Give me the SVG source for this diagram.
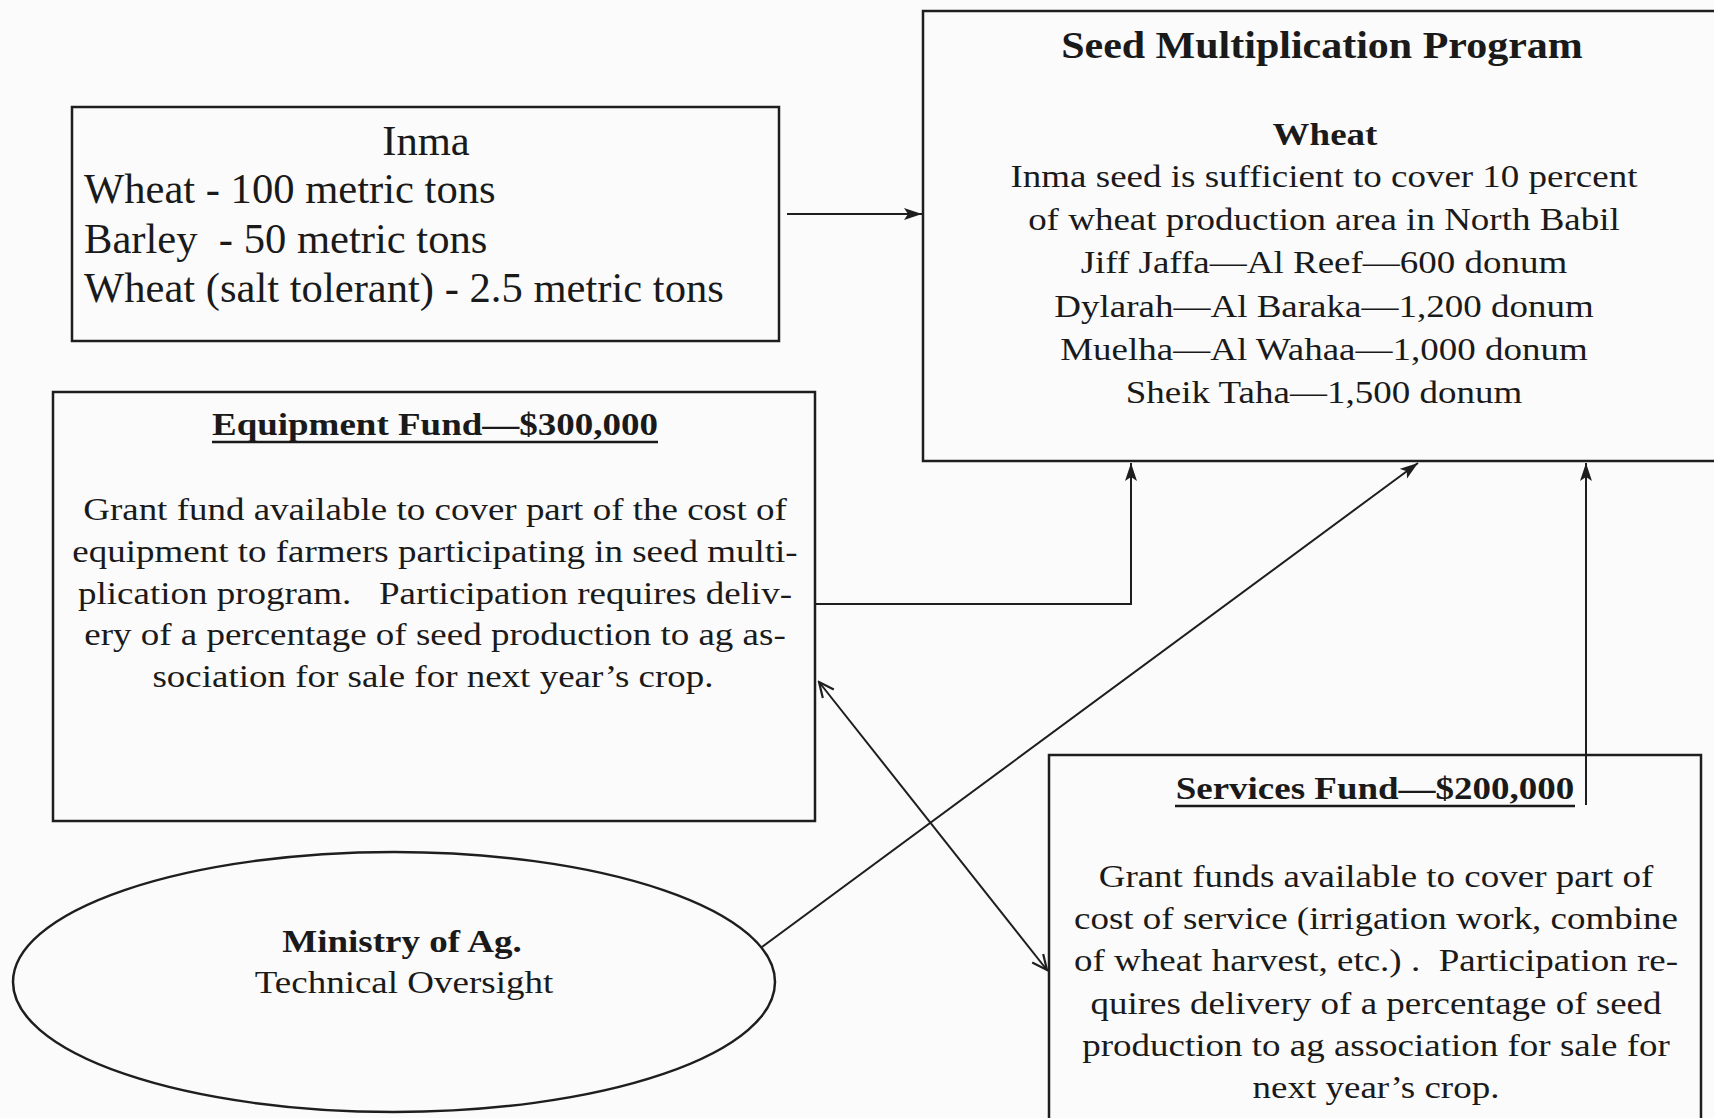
<svg xmlns="http://www.w3.org/2000/svg" width="1714" height="1118" viewBox="0 0 1714 1118">
<style>
.box{fill:none;stroke:#1e1e1e;stroke-width:2.5}
.t{font-family:"Liberation Serif","Times New Roman",serif;fill:#1a1a1a}
.b{font-weight:bold}
.c{text-anchor:middle}
.conn{fill:none;stroke:#1e1e1e;stroke-width:2}
.ul{stroke:#1a1a1a;stroke-width:2.5}
</style>
<defs>
<marker id="af" markerUnits="userSpaceOnUse" markerWidth="20" markerHeight="14" refX="18" refY="7" orient="auto">
<path d="M0,1 L18,7 L0,13 L4,7 z" fill="#1e1e1e"/>
</marker>
<marker id="ao" markerUnits="userSpaceOnUse" markerWidth="20" markerHeight="18" refX="18" refY="9" orient="auto-start-reverse">
<path d="M3,2 L18,9 L3,16" fill="none" stroke="#1e1e1e" stroke-width="2.2"/>
</marker>
</defs>
<rect width="1714" height="1118" fill="#fbfbfb"/>

<g id="inma">
<rect class="box" x="72" y="107" width="707" height="234"/>
<g class="t" font-size="42.6">
<text class="c" x="426" y="155">Inma</text>
<text x="84" y="203">Wheat - 100 metric tons</text>
<text x="84" y="253" style="white-space:pre">Barley  - 50 metric tons</text>
<text x="84" y="302">Wheat (salt tolerant) - 2.5 metric tons</text>
</g>
</g>

<g id="seed-program">
<rect class="box" x="923" y="11" width="820" height="450"/>
<text class="t b c" font-size="42" x="1322" y="0" transform="translate(0,58) scale(1,0.88)">Seed Multiplication Program</text>
<text class="t b c" font-size="37" x="1325" y="0" transform="translate(0,145) scale(1,0.88)">Wheat</text>
<g class="t c" font-size="37" transform="translate(0,187) scale(1,0.88)">
<text x="1324" y="0">Inma seed is sufficient to cover 10 percent</text>
<text x="1324" y="49.1">of wheat production area in North Babil</text>
<text x="1324" y="98.2">Jiff Jaffa—Al Reef—600 donum</text>
<text x="1324" y="147.3">Dylarah—Al Baraka—1,200 donum</text>
<text x="1324" y="196.4">Muelha—Al Wahaa—1,000 donum</text>
<text x="1324" y="245.5">Sheik Taha—1,500 donum</text>
</g>
</g>

<g id="equipment-fund">
<rect class="box" x="53" y="392" width="762" height="429"/>
<text class="t b c" font-size="37" x="435" y="0" transform="translate(0,435) scale(1,0.88)">Equipment Fund—$300,000</text>
<line class="ul" x1="212" y1="442" x2="658" y2="442"/>
<g class="t c" font-size="37" transform="translate(0,520) scale(1,0.88)">
<text x="435" y="0">Grant fund available to cover part of the cost of</text>
<text x="435" y="47.44">equipment to farmers participating in seed multi-</text>
<text x="435" y="94.9" style="white-space:pre">plication program.   Participation requires deliv-</text>
<text x="435" y="142.3">ery of a percentage of seed production to ag as-</text>
<text x="433" y="189.8">sociation for sale for next year’s crop.</text>
</g>
</g>

<g id="ministry">
<ellipse class="box" cx="394" cy="982" rx="381" ry="130"/>
<text class="t b c" font-size="37" x="402" y="0" transform="translate(0,952) scale(1,0.88)">Ministry of Ag.</text>
<text class="t c" font-size="37" x="404" y="0" transform="translate(0,993) scale(1,0.88)">Technical Oversight</text>
</g>

<g id="services-fund">
<rect class="box" x="1049" y="755" width="652" height="400"/>
<text class="t b c" font-size="37" x="1375" y="0" transform="translate(0,799) scale(1,0.88)">Services Fund—$200,000</text>
<line class="ul" x1="1175" y1="806" x2="1575" y2="806"/>
<g class="t c" font-size="37" transform="translate(0,887) scale(1,0.88)">
<text x="1376" y="0">Grant funds available to cover part of</text>
<text x="1376" y="47.95">cost of service (irrigation work, combine</text>
<text x="1376" y="95.9" style="white-space:pre">of wheat harvest, etc.) .  Participation re-</text>
<text x="1376" y="143.9">quires delivery of a percentage of seed</text>
<text x="1376" y="191.8">production to ag association for sale for</text>
<text x="1376" y="239.8">next year’s crop.</text>
</g>
</g>

<g id="connectors">
<line class="conn" x1="787" y1="214" x2="922" y2="214" marker-end="url(#af)"/>
<polyline class="conn" points="816,604 1131,604 1131,463" marker-end="url(#af)"/>
<line class="conn" x1="762" y1="947" x2="1418" y2="463" marker-end="url(#af)"/>
<line class="conn" x1="819" y1="682" x2="1047" y2="970" marker-start="url(#ao)" marker-end="url(#ao)"/>
<line class="conn" x1="1586" y1="805" x2="1586" y2="463" marker-end="url(#af)"/>
</g>
</svg>
